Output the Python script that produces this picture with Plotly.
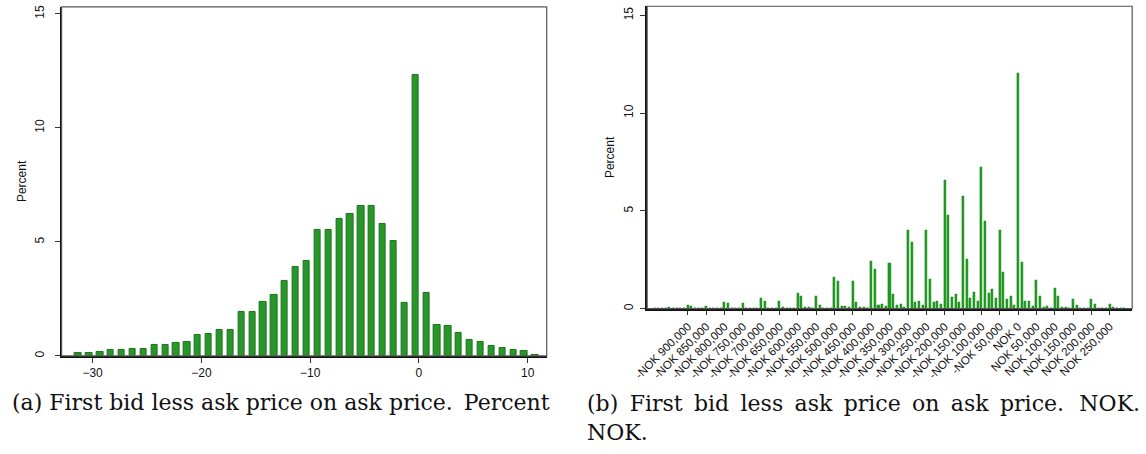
import plotly.graph_objects as go

# Panel (a): first bid less ask price, in percent of ask price (1-point bins)
pct_bins = list(range(-31, 12))
pct_share = [0.13, 0.12, 0.16, 0.26, 0.25, 0.29, 0.32, 0.47, 0.47, 0.55,
             0.60, 0.90, 0.95, 1.15, 1.15, 1.94, 1.91, 2.38, 2.65, 3.27,
             3.91, 4.15, 5.54, 5.50, 6.00, 6.24, 6.56, 6.59, 5.80, 5.06,
             2.30, 12.30, 2.76, 1.37, 1.30, 0.99, 0.71, 0.61, 0.42, 0.33,
             0.25, 0.20, 0.03]

# Panel (b): first bid less ask price in NOK (10,000 NOK bins)
nok_bins = list(range(-990000, 300000, 10000))
nok_share = [
    0.03, 0.03, 0.03, 0.03, 0.08, 0.03, 0.03, 0.03, 0.03, 0.17,   # -990k .. -900k
    0.10, 0.03, 0.03, 0.03, 0.10, 0.03, 0.03, 0.03, 0.03, 0.32,   # -890k .. -800k
    0.25, 0.03, 0.03, 0.03, 0.25, 0.03, 0.03, 0.03, 0.03, 0.51,   # -790k .. -700k
    0.36, 0.03, 0.03, 0.03, 0.36, 0.07, 0.03, 0.03, 0.03, 0.79,   # -690k .. -600k
    0.61, 0.07, 0.07, 0.03, 0.61, 0.15, 0.03, 0.03, 0.03, 1.62,   # -590k .. -500k
    1.42, 0.10, 0.10, 0.07, 1.42, 0.34, 0.07, 0.07, 0.03, 2.43,   # -490k .. -400k
    1.99, 0.17, 0.20, 0.10, 2.33, 0.73, 0.15, 0.20, 0.07, 4.02,   # -390k .. -300k
    3.40, 0.32, 0.37, 0.17, 4.02, 1.49, 0.30, 0.37, 0.22, 6.59,   # -290k .. -200k
    4.78, 0.59, 0.73, 0.32, 5.73, 2.50, 0.52, 0.81, 0.37, 7.22,   # -190k .. -100k
    4.48, 0.76, 0.98, 0.51, 4.00, 1.88, 0.47, 0.61, 0.17, 12.02,  # -90k .. 0
    2.38, 0.37, 0.37, 0.14, 1.47, 0.61, 0.08, 0.10, 0.03, 1.06,   # 10k .. 100k
    0.61, 0.05, 0.05, 0.03, 0.46, 0.15, 0.03, 0.03, 0.03, 0.46,   # 110k .. 200k
    0.20, 0.03, 0.03, 0.03, 0.22, 0.05, 0.03, 0.03, 0.03,         # 210k .. 290k
]

nok_tick_vals = list(range(-900000, 300000, 50000))
nok_tick_text = ["-NOK 900,000", "-NOK 850,000", "-NOK 800,000", "-NOK 750,000",
                 "-NOK 700,000", "-NOK 650,000", "-NOK 600,000", "-NOK 550,000",
                 "-NOK 500,000", "-NOK 450,000", "-NOK 400,000", "-NOK 350,000",
                 "-NOK 300,000", "-NOK 250,000", "-NOK 200,000", "-NOK 150,000",
                 "-NOK 100,000", "-NOK 50,000", "NOK 0", "NOK 50,000",
                 "NOK 100,000", "NOK 150,000", "NOK 200,000", "NOK 250,000"]

pct_tick_vals = [-30, -20, -10, 0, 10]
y_tick_vals = [0, 5, 10, 15]

caption_a = "(a) First bid less ask price on ask price.\u2002Percent"
# first line of the wrapped caption is set justified (wider word gaps)
caption_b_words = ["(b)", "First", "bid", "less", "ask", "price", "on", "ask", "price."]
caption_b = (" \u2009".join(caption_b_words) + "\u2002\u2009NOK.<br>NOK.")

W, H = 1146, 454
FILL = "#2a952a"
EDGE = "#17781a"
SANS = "Liberation Sans, Arial, sans-serif"
SERIF = "DejaVu Serif, serif"

fig = go.Figure()
fig.add_trace(go.Bar(x=pct_bins, y=pct_share, xaxis="x", yaxis="y",
                     width=0.58, offset=-0.61,
                     marker=dict(color=FILL, line=dict(color=EDGE, width=1)),
                     showlegend=False))
fig.add_trace(go.Bar(x=nok_bins, y=nok_share, xaxis="x2", yaxis="y2",
                     width=5500,
                     marker=dict(color="#1f9a1f", line=dict(color="#178a17", width=0.5)),
                     showlegend=False))

axis_font = dict(family=SANS, size=12, color="#111")
title_font = dict(family=SANS, size=12, color="#111")
common_x = dict(showgrid=False, zeroline=False, showline=True, linecolor="#111",
                linewidth=1.5, ticks="outside", ticklen=5, tickcolor="#333",
                tickwidth=1)
common_y = dict(showgrid=False, zeroline=False, showline=True, linecolor="#111",
                linewidth=1.5, ticks="outside", ticklen=5, tickcolor="#333",
                tickwidth=1, tickfont=axis_font, tickangle=-90,
                tickvals=y_tick_vals, ticktext=[str(v) for v in y_tick_vals])

fig.update_layout(
    width=W, height=H,
    margin=dict(l=0, r=0, t=0, b=0),
    paper_bgcolor="white", plot_bgcolor="white",
    bargap=0,
    xaxis=dict(domain=[48.2 / W, 539.3 / W], range=[-32.85, 11.75],
               tickvals=pct_tick_vals, anchor="y", tickfont=axis_font, **common_x),
    yaxis=dict(domain=[97 / H, 449 / H], range=[0, 15.3], anchor="x",
               ticklabelstandoff=6,
               title=dict(text="Percent", font=title_font, standoff=4), **common_y),
    xaxis2=dict(domain=[641 / W, 1132 / W], range=[-1011000, 311000],
                tickvals=nok_tick_vals, ticktext=nok_tick_text, tickangle=-45,
                anchor="y2", tickfont=dict(family=SANS, size=11.5, color="#111"),
                **common_x),
    yaxis2=dict(domain=[144.7 / H, 449.7 / H], range=[0, 15.47], anchor="x2",
                ticklabelstandoff=3,
                title=dict(text="Percent", font=title_font, standoff=4), **common_y),
)

# light frame around each plot region
for xr, yr in (("x domain", "y domain"), ("x2 domain", "y2 domain")):
    fig.add_shape(type="rect", xref=xr, yref=yr, x0=0, x1=1, y0=0, y1=1,
                  line=dict(color="#555", width=1.2), layer="above")

fig.add_annotation(text=caption_a, xref="paper", yref="paper", x=-4 / W, y=1 - 404 / H,
                   xanchor="left", yanchor="middle", showarrow=False, align="left",
                   font=dict(family=SERIF, size=22, color="#111"))
fig.add_annotation(text=caption_b, xref="paper", yref="paper", x=578 / W, y=1 - 390 / H,
                   xanchor="left", yanchor="top", showarrow=False, align="left",
                   font=dict(family=SERIF, size=22, color="#111"))

fig.write_html("out.html")
